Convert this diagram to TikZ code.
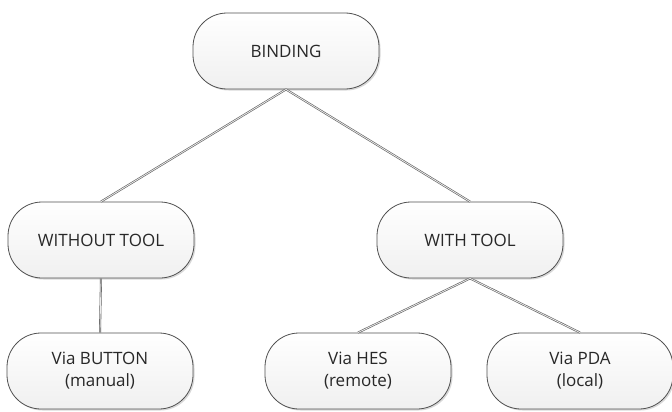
\documentclass[tikz,border=0pt]{standalone}
\usepackage{fontspec}
\setmainfont{Open Sans}
\usetikzlibrary{shadows}
\definecolor{bordegris}{RGB}{80,80,80}
\definecolor{lineagris}{RGB}{95,95,95}
\definecolor{textogris}{RGB}{40,40,40}

\begin{document}
\begin{tikzpicture}[x=1pt, y=-1pt, font=\fontsize{17}{22}\selectfont,
    caja/.style={draw=bordegris, line width=0.8pt, rounded corners=34pt,
      minimum width=186pt, minimum height=76pt, align=center, text=textogris,
      top color=white, bottom color=gray!12,
      drop shadow={shadow xshift=1.5pt, shadow yshift=-1.5pt, fill=gray!60, opacity=0.5}},
    rama/.style={draw=lineagris, line width=0.6pt, double=gray!15, double distance=0.8pt}]
  \useasboundingbox (0,0) rectangle (672,412);
  % nodos del arbol
  \node[caja] (bind) at (286,51) {BINDING};
  \node[caja] (sin)  at (101,240) {WITHOUT TOOL};
  \node[caja] (con)  at (470,240) {WITH TOOL};
  \node[caja] (boton) at (100,371) {Via BUTTON\\(manual)};
  \node[caja] (hes)  at (358,371) {Via HES\\(remote)};
  \node[caja] (pda)  at (580,371) {Via PDA\\(local)};
  % ramas
  \draw[rama] (bind.south) -- (sin.north);
  \draw[rama] (bind.south) -- (con.north);
  \draw[rama] (sin.south) -- (boton.north);
  \draw[rama] (con.south) -- (hes.north);
  \draw[rama] (con.south) -- (pda.north);
\end{tikzpicture}
\end{document}
